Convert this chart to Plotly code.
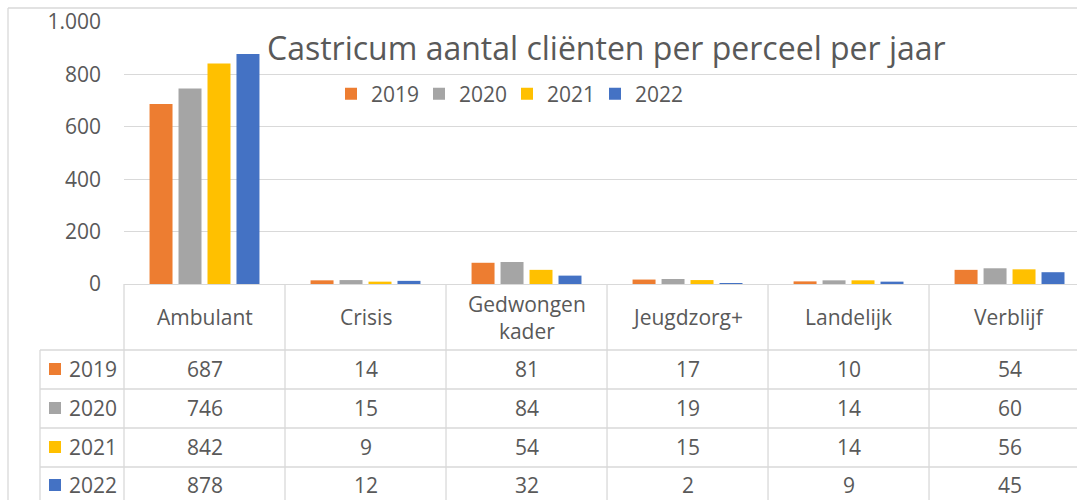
import plotly.graph_objects as go

categories = ["Ambulant", "Crisis", "Gedwongen<br>kader", "Jeugdzorg+", "Landelijk", "Verblijf"]
years = ["2019", "2020", "2021", "2022"]
v2019 = [687, 14, 81, 17, 10, 54]
v2020 = [746, 15, 84, 19, 14, 60]
v2021 = [842, 9, 54, 15, 14, 56]
v2022 = [878, 12, 32, 2, 9, 45]
series = [v2019, v2020, v2021, v2022]
colors = ["#ED7D31", "#A5A5A5", "#FFC000", "#4472C4"]
yticks = [0, 200, 400, 600, 800, 1000]
yticklabels = ["0", "200", "400", "600", "800", "1.000"]

W, H = 1077, 500
ML, MT = 124, 22
PW, PH = W - ML, H - MT
XMIN, XMAX = -0.5, 5.419
GRID = "#D9D9D9"
TXT = "#595959"
FONT = "Open Sans"
FS = 21

def px_x(px):
    return (px - ML) / PW

def px_y(py):
    return (H - py) / PH

def data_x(v):
    return (v - XMIN) / (XMAX - XMIN)

fig = go.Figure()
xs = list(range(len(categories)))
for yr, vals, c in zip(years, series, colors):
    fig.add_trace(go.Bar(x=xs, y=vals, name=yr, marker=dict(color=c, line=dict(width=0))))

shapes = []
line = dict(color=GRID, width=1.3)
# outer chart border
shapes.append(dict(type="line", xref="paper", yref="paper", x0=px_x(8), x1=px_x(W + 5), y0=px_y(8), y1=px_y(8), line=line))
shapes.append(dict(type="line", xref="paper", yref="paper", x0=px_x(8), x1=px_x(8), y0=px_y(8), y1=px_y(H + 5), line=line))
# table grid
row_lines = [350, 389, 428, 467]
for ry in row_lines:
    shapes.append(dict(type="line", xref="paper", yref="paper", x0=px_x(40), x1=px_x(W + 5), y0=px_y(ry), y1=px_y(ry), line=line))
for b in range(len(categories) + 1):
    bx = data_x(b - 0.5)
    shapes.append(dict(type="line", xref="paper", yref="paper", x0=bx, x1=bx, y0=px_y(284), y1=px_y(H + 5), line=line))
shapes.append(dict(type="line", xref="paper", yref="paper", x0=px_x(40), x1=px_x(40), y0=px_y(350), y1=px_y(H + 5), line=line))

annotations = []
# header
for i, c in enumerate(categories):
    annotations.append(dict(x=i, xref="x", y=px_y(317), yref="paper", text=c, showarrow=False,
                            font=dict(family=FONT, size=FS, color=TXT), xanchor="center", yanchor="middle"))
row_centers = [369, 408, 447, 485]
for r, (yr, vals, col) in enumerate(zip(years, series, colors)):
    cy = row_centers[r]
    for i, v in enumerate(vals):
        annotations.append(dict(x=i, xref="x", y=px_y(cy), yref="paper", text=str(v), showarrow=False,
                                font=dict(family=FONT, size=FS, color=TXT), xanchor="center", yanchor="middle"))
    annotations.append(dict(x=px_x(67), xref="paper", y=px_y(cy), yref="paper", text=yr, showarrow=False,
                            font=dict(family=FONT, size=FS, color=TXT), xanchor="left", yanchor="middle"))
    shapes.append(dict(type="rect", xref="paper", yref="paper", x0=px_x(49), x1=px_x(61),
                       y0=px_y(cy - 6), y1=px_y(cy + 6), fillcolor=col, line=dict(width=0)))

annotations.append(dict(x=px_x(606), xref="paper", y=px_y(47), yref="paper",
                        text="Castricum aantal cliënten per perceel per jaar", showarrow=False,
                        font=dict(family=FONT, size=32, color=TXT), xanchor="center", yanchor="middle"))

fig.update_layout(
    width=W, height=H,
    margin=dict(l=ML, r=0, t=MT, b=0, autoexpand=False),
    paper_bgcolor="white", plot_bgcolor="white",
    barmode="group", bargap=0.28, bargroupgap=0.207,
    showlegend=True,
    legend=dict(orientation="h", x=px_x(331), y=px_y(94), xanchor="left", yanchor="middle",
                font=dict(family=FONT, size=FS, color=TXT), entrywidth=43, entrywidthmode="pixels",
                itemwidth=30, bgcolor="rgba(0,0,0,0)", traceorder="normal"),
    xaxis=dict(range=[XMIN, XMAX], showticklabels=False, showgrid=False, zeroline=False,
               showline=True, linecolor=GRID, linewidth=1.3, ticks="", automargin=False),
    yaxis=dict(range=[0, 1000], domain=[px_y(284), 1], tickvals=yticks, ticktext=yticklabels,
               showgrid=True, gridcolor=GRID, gridwidth=1.3, zeroline=False, showline=False,
               tickfont=dict(family=FONT, size=FS, color=TXT), ticks="", ticklabelstandoff=22,
               automargin=False),
    shapes=shapes,
    annotations=annotations,
)

fig.write_html("out.html", config={"displayModeBar": False},
               post_script="document.body.style.margin='0';document.body.style.overflow='hidden';")
